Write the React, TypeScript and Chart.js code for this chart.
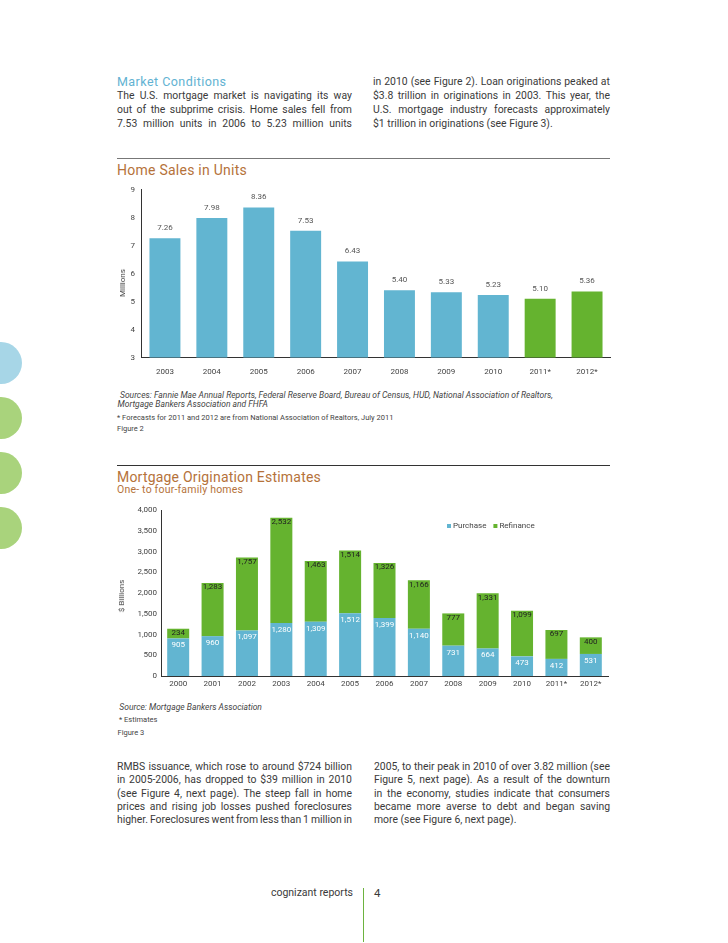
import React, { useEffect, useRef } from "react";
import { Chart, registerables } from "chart.js";

Chart.register(...registerables);

const FONT = "Roboto, 'Liberation Sans', sans-serif";
const BLUE = "#62b5d1";
const GREEN = "#65b32f";
const HEAD = "#b5723a";
const TEXT = "#3a3a3a";

// ---- Figure 2: Home sales in units (millions)
const homeYears = ["2003", "2004", "2005", "2006", "2007", "2008", "2009", "2010", "2011*", "2012*"];
const homeSales = [7.26, 7.98, 8.36, 7.53, 6.43, 5.4, 5.33, 5.23, 5.1, 5.36];
const homeMin = 3;
const homeMax = 9;
const homeStep = 1;

// ---- Figure 3: Mortgage origination estimates ($ billions)
const originYears = ["2000", "2001", "2002", "2003", "2004", "2005", "2006", "2007", "2008", "2009", "2010", "2011*", "2012*"];
const purchase = [905, 960, 1097, 1280, 1309, 1512, 1399, 1140, 731, 664, 473, 412, 531];
const refinance = [234, 1283, 1757, 2532, 1463, 1514, 1326, 1166, 777, 1331, 1099, 697, 400];
const originMin = 0;
const originMax = 4000;
const originStep = 500;

// ---- Text
const topLeft = [
  "The U.S. mortgage market is navigating its way",
  "out of the subprime crisis. Home sales fell from",
  "7.53 million units in 2006 to 5.23 million units",
];
const topRight = [
  "in 2010 (see Figure 2). Loan originations peaked at",
  "$3.8 trillion in originations in 2003. This year, the",
  "U.S. mortgage industry forecasts approximately",
  "$1 trillion in originations (see Figure 3).",
];
const bottomLeft = [
  "RMBS issuance, which rose to around $724 billion",
  "in 2005-2006, has dropped to $39 million in 2010",
  "(see Figure 4, next page). The steep fall in home",
  "prices and rising job losses pushed foreclosures",
  "higher. Foreclosures went from less than 1 million in",
];
const bottomRight = [
  "2005, to their peak in 2010 of over 3.82 million (see",
  "Figure 5, next page). As a result of the downturn",
  "in the economy, studies indicate that consumers",
  "became more averse to debt and began saving",
  "more (see Figure 6, next page).",
];

const fmt = (v: number) => Number(v).toLocaleString("en-US");

const homeLabelPlugin = {
  id: "homeLabels",
  afterDatasetsDraw(chart: any) {
    const ctx = chart.ctx;
    const meta = chart.getDatasetMeta(0);
    ctx.save();
    ctx.font = `8px ${FONT}`;
    ctx.fillStyle = "#555";
    ctx.textAlign = "center";
    ctx.textBaseline = "middle";
    meta.data.forEach((el: any, i: number) => {
      const v = chart.data.datasets[0].data[i] as number;
      ctx.fillText(v.toFixed(2), el.x, el.y - 10);
    });
    ctx.restore();
  },
};

const originLabelPlugin = {
  id: "originLabels",
  afterDatasetsDraw(chart: any) {
    const ctx = chart.ctx;
    ctx.save();
    ctx.font = `8px ${FONT}`;
    ctx.textAlign = "center";
    ctx.textBaseline = "middle";
    chart.data.datasets.forEach((ds: any, di: number) => {
      const meta = chart.getDatasetMeta(di);
      ctx.fillStyle = di === 0 ? "#ffffff" : "#222222";
      const off = di === 0 ? 7 : 4.5;
      meta.data.forEach((el: any, i: number) => {
        ctx.fillText(fmt(ds.data[i]), el.x, el.y + off);
      });
    });
    ctx.restore();
  },
};

const originLegendPlugin = {
  id: "originLegend",
  afterDraw(chart: any) {
    const ctx = chart.ctx;
    ctx.save();
    ctx.font = `8px ${FONT}`;
    ctx.textBaseline = "middle";
    ctx.textAlign = "left";
    let x = 339;
    const y = 28;
    chart.data.datasets.forEach((ds: any) => {
      ctx.fillStyle = ds.backgroundColor;
      ctx.fillRect(x, y - 2, 4, 4);
      x += 6;
      ctx.fillStyle = "#444";
      ctx.fillText(ds.label, x, y);
      x += ctx.measureText(ds.label).width + 7;
    });
    ctx.restore();
  },
};

function HomeChart() {
  const ref = useRef<HTMLCanvasElement>(null);
  useEffect(() => {
    if (!ref.current) return;
    const chart = new Chart(ref.current, {
      type: "bar",
      data: {
        labels: homeYears,
        datasets: [
          {
            label: "Home sales",
            data: homeSales,
            backgroundColor: homeYears.map((y) => (y.endsWith("*") ? GREEN : BLUE)),
            borderWidth: 0,
            barPercentage: 0.66,
            categoryPercentage: 1,
          },
        ],
      },
      options: {
        animation: false,
        responsive: false,
        layout: { padding: { top: 11.5, right: 9.5, bottom: 0, left: 0 } },
        plugins: { legend: { display: false }, tooltip: { enabled: false } },
        scales: {
          x: {
            grid: { display: false, drawTicks: false },
            border: { display: true, color: "#333", width: 1 },
            ticks: { font: { family: FONT, size: 8 }, color: "#444", padding: 9.5, maxRotation: 0, autoSkip: false },
            afterFit: (s: any) => {
              s.height = 22.5;
            },
          },
          y: {
            min: homeMin,
            max: homeMax,
            grid: { display: false, drawTicks: false },
            border: { display: true, color: "#333", width: 1 },
            ticks: { stepSize: homeStep, font: { family: FONT, size: 8 }, color: "#444", padding: 6.5 },
            afterFit: (s: any) => {
              s.width = 33.5;
            },
          },
        },
      },
      plugins: [homeLabelPlugin],
    });
    return () => chart.destroy();
  }, []);
  return <canvas ref={ref} width={512} height={202} style={{ position: "absolute", left: 108, top: 178 }} />;
}

function OriginChart() {
  const ref = useRef<HTMLCanvasElement>(null);
  useEffect(() => {
    if (!ref.current) return;
    const chart = new Chart(ref.current, {
      type: "bar",
      data: {
        labels: originYears,
        datasets: [
          { label: "Purchase", data: purchase, backgroundColor: BLUE, borderWidth: 0, barPercentage: 0.64, categoryPercentage: 1 },
          { label: "Refinance", data: refinance, backgroundColor: GREEN, borderWidth: 0, barPercentage: 0.64, categoryPercentage: 1 },
        ],
      },
      options: {
        animation: false,
        responsive: false,
        layout: { padding: { top: 12, right: 12, bottom: 0, left: 0 } },
        plugins: { legend: { display: false }, tooltip: { enabled: false } },
        scales: {
          x: {
            stacked: true,
            grid: { display: false, drawTicks: false },
            border: { display: true, color: "#333", width: 1 },
            ticks: { font: { family: FONT, size: 8 }, color: "#444", padding: 3.2, maxRotation: 0, autoSkip: false },
            afterFit: (s: any) => {
              s.height = 19;
            },
          },
          y: {
            stacked: true,
            min: originMin,
            max: originMax,
            grid: { display: false, drawTicks: false },
            border: { display: true, color: "#333", width: 1 },
            ticks: {
              stepSize: originStep,
              font: { family: FONT, size: 8 },
              color: "#444",
              padding: 4,
              callback: (v: any) => fmt(v),
            },
            afterFit: (s: any) => {
              s.width = 53;
            },
          },
        },
      },
      plugins: [originLabelPlugin, originLegendPlugin],
    });
    return () => chart.destroy();
  }, []);
  return <canvas ref={ref} width={512} height={197} style={{ position: "absolute", left: 108, top: 498 }} />;
}

type LineProps = {
  x: number;
  y: number;
  w?: number;
  text: string;
  size?: number;
  lh?: number;
  justify?: boolean;
  color?: string;
  italic?: boolean;
  spacing?: number;
};

function TLine({ x, y, w, text, size = 10.4, lh = 14, justify = false, color = TEXT, italic = false, spacing = 0 }: LineProps) {
  const style: React.CSSProperties = {
    position: "absolute",
    left: x,
    top: y - lh / 2,
    width: w,
    height: lh,
    lineHeight: lh + "px",
    fontSize: size,
    color,
    whiteSpace: "nowrap",
    fontStyle: italic ? "italic" : "normal",
    letterSpacing: spacing,
  };
  if (!justify) return <div style={style}>{text}</div>;
  return (
    <div style={{ ...style, display: "flex", justifyContent: "space-between" }}>
      {text.split(" ").map((t, i) => (
        <span key={i}>{t}</span>
      ))}
    </div>
  );
}

function Para({ lines, x, y0, dy, w, lastFree }: { lines: string[]; x: number; y0: number; dy: number; w: number; lastFree: boolean }) {
  return (
    <>
      {lines.map((t, i) => (
        <TLine key={i} x={x} y={y0 + i * dy} w={w} text={t} justify={!(lastFree && i === lines.length - 1)} />
      ))}
    </>
  );
}

function Circle({ cy, color }: { cy: number; color: string }) {
  return (
    <div
      style={{
        position: "absolute",
        left: 1 - 21,
        top: cy - 21,
        width: 42,
        height: 42,
        borderRadius: "50%",
        background: color,
      }}
    />
  );
}

function VTitle({ x, y, text }: { x: number; y: number; text: string }) {
  return (
    <div
      style={{
        position: "absolute",
        left: x,
        top: y,
        transform: "translate(-50%, -50%) rotate(-90deg)",
        fontSize: 8,
        color: "#444",
        whiteSpace: "nowrap",
        lineHeight: "10px",
      }}
    >
      {text}
    </div>
  );
}

export default function App() {
  return (
    <div
      style={{
        position: "absolute",
        left: 0,
        top: 0,
        width: 728,
        height: 943,
        overflow: "hidden",
        background: "#fff",
        fontFamily: FONT,
      }}
    >
      <Circle cy={362.5} color="#a7d6e7" />
      <Circle cy={418} color="#a9d37c" />
      <Circle cy={473} color="#a9d37c" />
      <Circle cy={527.5} color="#a9d37c" />

      <TLine x={117} y={81.7} text="Market Conditions" size={12.5} lh={16} spacing={0.45} color="#62b2d2" />
      <Para lines={topLeft} x={117} y0={96} dy={14.2} w={235} lastFree={false} />
      <Para lines={topRight} x={373} y0={81.7} dy={14.2} w={237} lastFree={true} />

      <div style={{ position: "absolute", left: 117, top: 157.5, width: 493, height: 1, background: "#777" }} />
      <TLine x={117} y={169.5} text="Home Sales in Units" size={14} lh={16} spacing={0.25} color={HEAD} />

      <HomeChart />
      <VTitle x={122.5} y={283} text="Millions" />

      <TLine x={120} y={395} italic size={8.5} lh={10} color="#444" text="Sources: Fannie Mae Annual Reports, Federal Reserve Board, Bureau of Census, HUD, National Association of Realtors," />
      <TLine x={117.5} y={403.5} italic size={8.5} lh={10} color="#444" text="Mortgage Bankers Association and FHFA" />
      <TLine x={117} y={417.5} size={7.5} lh={10} color="#444" text="* Forecasts for 2011 and 2012 are from National Association of Realtors, July 2011" />
      <TLine x={117} y={428.5} size={7.5} lh={10} color="#444" text="Figure 2" />

      <div style={{ position: "absolute", left: 117, top: 464.5, width: 493, height: 1, background: "#333" }} />
      <TLine x={117} y={476.7} text="Mortgage Origination Estimates" size={14} lh={16} spacing={0.2} color={HEAD} />
      <TLine x={117} y={490} text="One- to four-family homes" size={10.5} lh={12} spacing={0.2} color={HEAD} />

      <OriginChart />
      <VTitle x={122} y={596} text="$ Billions" />

      <TLine x={119.3} y={706.7} italic size={8.5} lh={10} color="#444" text="Source: Mortgage Bankers Association" />
      <TLine x={119} y={720} size={7.5} lh={10} color="#444" text="* Estimates" />
      <TLine x={117.5} y={732.7} size={7.5} lh={10} color="#444" text="Figure 3" />

      <Para lines={bottomLeft} x={117} y0={767} dy={13.3} w={235} lastFree={false} />
      <Para lines={bottomRight} x={374} y0={767} dy={13.3} w={236} lastFree={true} />

      <div style={{ position: "absolute", left: 200, top: 886, width: 153, textAlign: "right", fontSize: 10.5, lineHeight: "14px", color: TEXT }}>
        cognizant reports
      </div>
      <div style={{ position: "absolute", left: 363, top: 888, width: 1, height: 54, background: "#6db33f" }} />
      <div style={{ position: "absolute", left: 374, top: 886, fontSize: 11.5, lineHeight: "14px", color: TEXT }}>4</div>
    </div>
  );
}
